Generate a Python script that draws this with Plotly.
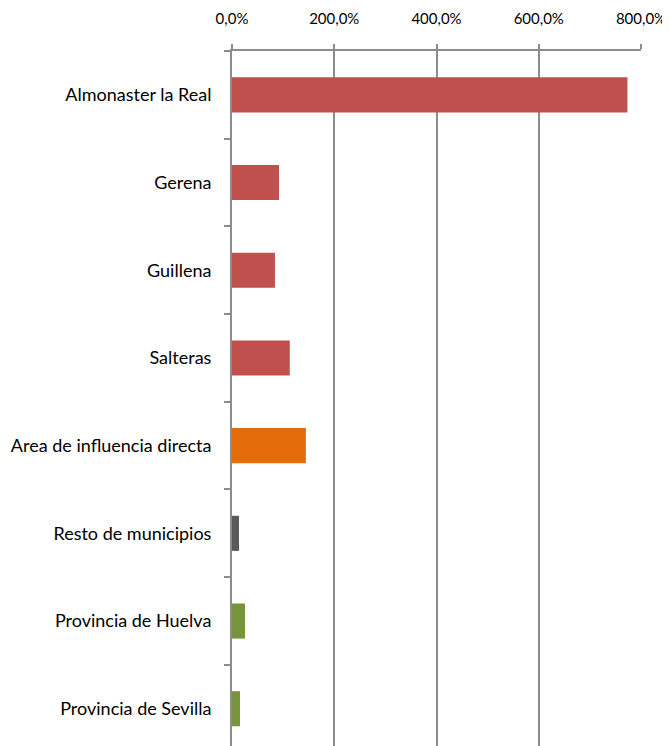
import plotly.graph_objects as go

categories = ["Almonaster la Real", "Gerena", "Guillena", "Salteras",
              "Area de influencia directa", "Resto de municipios",
              "Provincia de Huelva", "Provincia de Sevilla"]
values = [773.5, 92.0, 84.0, 113.0, 144.5, 13.7, 25.4, 15.6]
colors = ["#C0504D", "#C0504D", "#C0504D", "#C0504D",
          "#E46C0A", "#595959", "#77933C", "#77933C"]
tick_vals = [0, 200, 400, 600, 800]
tick_text = ["0,0%", "200,0%", "400,0%", "600,0%", "800,0%"]

fig = go.Figure(go.Bar(
    x=values, y=categories, orientation="h",
    marker=dict(color=colors, line=dict(width=0)),
    width=0.4,
))

fig.update_layout(
    width=670, height=746,
    margin=dict(l=224, r=37, t=43, b=8),
    paper_bgcolor="white", plot_bgcolor="white",
    font=dict(family="Lato", size=18, color="#000000"),
    showlegend=False,
    bargap=0.6,
)
fig.update_xaxes(
    side="top", range=[0, 800], tickvals=tick_vals, ticktext=tick_text,
    automargin=False,
    showgrid=True, gridcolor="#8C8C8C", gridwidth=1.5,
    showline=True, linecolor="#8C8C8C", linewidth=1.5,
    ticks="outside", ticklen=5, tickcolor="#8C8C8C", tickwidth=1.5,
    ticklabelstandoff=14,
    zeroline=False, tickfont=dict(size=15),
)
fig.update_yaxes(
    type="category", categoryorder="array", categoryarray=categories,
    range=[7.425, -0.5], automargin=False,
    showgrid=False, showline=True, linecolor="#8C8C8C", linewidth=2,
    ticks="outside", tickson="boundaries", ticklen=6, tickcolor="#8C8C8C", tickwidth=1.5,
    ticklabelstandoff=15, tickfont=dict(size=18),
)

fig.write_html("out.html")
